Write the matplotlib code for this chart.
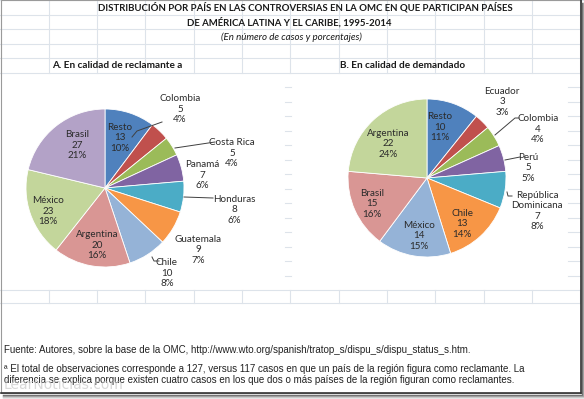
import matplotlib
matplotlib.use("Agg")
import matplotlib.pyplot as plt
from matplotlib.patches import Rectangle

W, H = 584, 399

# data: panel A (reclamante), panel B (demandado), clockwise from 12 o'clock
a_labels = ["Resto", "Colombia", "Costa Rica", "Panamá", "Honduras",
            "Guatemala", "Chile", "Argentina", "México", "Brasil"]
a_values = [13, 5, 5, 7, 8, 9, 10, 20, 23, 27]

b_labels = ["Resto", "Ecuador", "Colombia", "Perú", "República\nDominicana",
            "Chile", "México", "Brasil", "Argentina"]
b_values = [10, 3, 4, 5, 7, 13, 14, 15, 22]

excel = ["#4F81BD", "#C0504D", "#9BBB59", "#8064A2", "#4BACC6",
         "#F79646", "#95B3D7", "#D99694", "#C3D69B", "#B3A2C7"]

fig = plt.figure(figsize=(W / 100, H / 100), dpi=100)
ax = fig.add_axes([0, 0, 1, 1])

def Y(y):
    return H - y

# spreadsheet gridlines (hidden behind the chart areas)
grid = "#dde3ea"
cols = [0.5 + 48.3 * k for k in range(13)]
rows = [14.5 * k for k in range(21)] + [303]
for y in rows:
    if y < 73 or y > 289:
        ax.plot([0, W], [Y(y), Y(y)], color=grid, lw=0.8, zorder=0)
    else:
        ax.plot([285, 291], [Y(y), Y(y)], color=grid, lw=0.8, zorder=0)
        ax.plot([568, 580], [Y(y), Y(y)], color=grid, lw=0.8, zorder=0)
for x in cols:
    ax.plot([x, x], [Y(0), Y(73)], color=grid, lw=0.8, zorder=0)
    ax.plot([x, x], [Y(290), Y(303)], color=grid, lw=0.8, zorder=0)


def pie_panel(values, labels, cx, cy, r, label_pos, leaders):
    total = sum(values)
    ax.pie(values, colors=excel[:len(values)], startangle=90, counterclock=False,
           center=(cx, Y(cy)), radius=r,
           wedgeprops=dict(edgecolor="white", linewidth=0.6), frame=True)
    for lab, v, (tx, ty) in zip(labels, values, label_pos):
        pct = int(v / total * 100 + 0.5)
        ax.text(tx, Y(ty), f"{lab}\n{v}\n{pct}%", ha="center", va="center",
                fontsize=7.1, family="Lato", color="#2b2b2b", linespacing=1.2,
                zorder=5)
    for pts in leaders:
        ax.plot([p[0] for p in pts], [Y(p[1]) for p in pts], color="#404040",
                lw=0.7, zorder=5)


pie_panel(a_values, a_labels, 105, 188, 79,
          [(120, 138), (180, 109), (232, 153), (202, 175), (234, 210),
           (198, 250), (167, 273), (97, 245), (48, 211), (77, 145)],
          [[(132, 137), (137, 131), (162, 122)],
           [(175, 148), (215, 142)],
           [(184, 197), (213, 198)],
           [(152, 257), (154, 261), (159, 261)]])

pie_panel(b_values, b_labels, 427, 178, 79,
          [(440, 127), (502, 102), (538, 129), (528, 168), (537, 211),
           (462, 224), (419, 236), (372, 204), (388, 144)],
          [[(495, 135), (515, 118), (519, 118)],
           [(505, 160), (520, 157)],
           [(507, 192), (508, 196), (512, 196)]])

# titles
tkw = dict(family="Lato", color="#1a1a1a", zorder=6)
ax.text(305, Y(7.5), "DISTRIBUCIÓN POR PAÍS EN LAS CONTROVERSIAS EN LA OMC EN QUE PARTICIPAN PAÍSES",
        ha="center", va="center", fontsize=6.9, weight="bold", **tkw)
ax.text(289, Y(22.5), "DE AMÉRICA LATINA Y EL CARIBE, 1995-2014",
        ha="center", va="center", fontsize=6.9, weight="bold", **tkw)
ax.text(291, Y(37), "(En número de casos y porcentajes)",
        ha="center", va="center", fontsize=7.0, style="italic", **tkw)
ax.text(52, Y(65.5), "A. En calidad de reclamante a", ha="left", va="center",
        fontsize=7.2, weight="bold", **tkw)
ax.text(340, Y(65.5), "B. En calidad de demandado", ha="left", va="center",
        fontsize=7.2, weight="bold", **tkw)

# source and note
fkw = dict(family="Liberation Sans", fontsize=7.0, color="#222222", ha="left", va="center")
ax.text(4, Y(350), "Fuente: Autores, sobre la base de la OMC, "
        "http://www.wto.org/spanish/tratop_s/dispu_s/dispu_status_s.htm.", **fkw)
ax.text(4, Y(369), "ª El total de observaciones corresponde a 127, versus 117 casos en que un "
        "país de la región figura como reclamante. La", **fkw)
ax.text(4, Y(380), "diferencia se explica porque existen cuatro casos en los que dos o más "
        "países de la región figuran como reclamantes.", **fkw)
ax.text(4, Y(385), "LearNoticias.com", family="DejaVu Sans", fontsize=10, color="#c8c8c8",
        alpha=0.7, ha="left", va="center", zorder=7)

# screenshot frame with shadow
ax.add_patch(Rectangle((0.5, Y(393)), 580, 393, fill=False, edgecolor="#9a9a9a", lw=0.8, zorder=8))
ax.plot([580.5, 580.5], [Y(0), Y(393)], color="#333333", lw=1.2, zorder=9)
ax.plot([0.5, 580.5], [Y(393), Y(393)], color="#333333", lw=1.2, zorder=9)
for i, c in enumerate(["#6a6a6a", "#9a9a9a", "#c4c4c4", "#e4e4e4"]):
    ax.plot([582 + i, 582 + i], [Y(3), Y(395 + i)], color=c, lw=1, zorder=9)
    ax.plot([3, 582 + i], [Y(395 + i), Y(395 + i)], color=c, lw=1, zorder=9)

ax.set_xlim(0, W)
ax.set_ylim(0, H)
ax.set_aspect("equal")
ax.axis("off")

fig.savefig("out.png", dpi=100)
